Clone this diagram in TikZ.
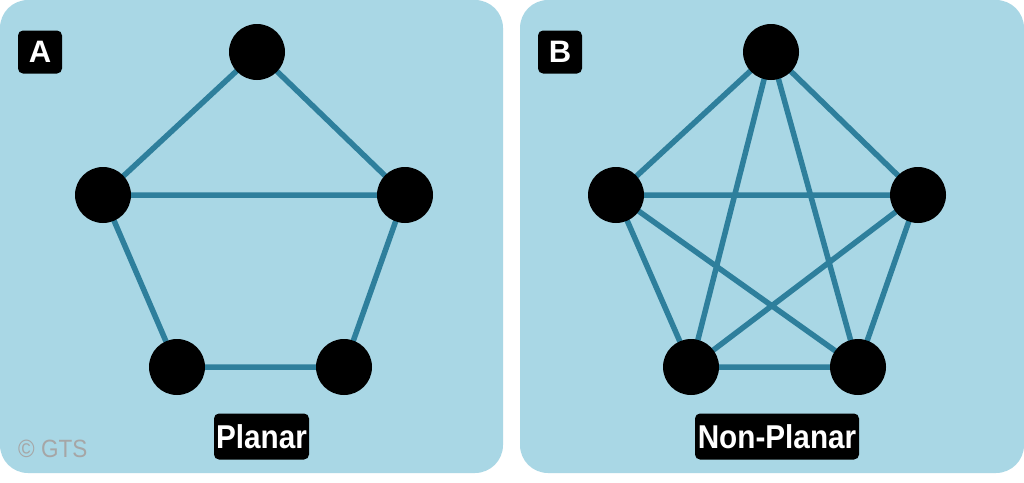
\documentclass[tikz,border=0pt]{standalone}
\usepackage{fontspec}
\setmainfont{Liberation Sans}
\newfontfamily\condfont[FakeStretch=0.9]{Liberation Sans}
\begin{document}
\begin{tikzpicture}[x=1pt,y=-1pt,
  panel/.style={fill=panelbg,draw=none,rounded corners=28pt},
  vtx/.style={circle,fill=black,minimum size=56pt,inner sep=0pt},
  edge/.style={draw=edgec,line width=5.5pt},
  tag/.style={fill=black,text=white,rounded corners=5pt,font=\condfont\bfseries\fontsize{33}{33}\selectfont,inner sep=0pt,minimum height=46pt},
]
\definecolor{panelbg}{HTML}{A9D7E5}
\definecolor{edgec}{HTML}{2E7F9C}
\useasboundingbox (0,0) rectangle (1024,482);
\fill[white] (0,0) rectangle (1024,482);
\path[panel] (0,0) rectangle (503,473);
\path[panel] (520,0) rectangle (1024,473);
% panel A vertices
\coordinate (a1) at (257,52);
\coordinate (a2) at (103,195);
\coordinate (a3) at (405,195);
\coordinate (a4) at (177,367);
\coordinate (a5) at (344,367);
% panel B vertices
\coordinate (b1) at (771,52);
\coordinate (b2) at (616,195);
\coordinate (b3) at (918,195);
\coordinate (b4) at (691,367);
\coordinate (b5) at (858,367);
\draw[edge] (a1) -- (a2) (a1) -- (a3) (a2) -- (a3)
  (a2) -- (a4) (a3) -- (a5) (a4) -- (a5);
\draw[edge] (b1) -- (b2) (b1) -- (b3) (b1) -- (b4) (b1) -- (b5)
  (b2) -- (b3) (b2) -- (b4) (b2) -- (b5)
  (b3) -- (b4) (b3) -- (b5) (b4) -- (b5);
\foreach \n in {a1,a2,a3,a4,a5,b1,b2,b3,b4,b5}{\node[vtx] (v\n) at (\n) {};}
% tags
\node[tag,minimum width=44pt,minimum height=43pt,font=\bfseries\fontsize{31}{31}\selectfont] (la) at (40,52) {A};
\node[tag,minimum width=44pt,minimum height=43pt,font=\bfseries\fontsize{31}{31}\selectfont] (lb) at (560,52) {B};
\node[tag,minimum width=95pt] (pl) at (261.5,436.5) {Planar};
\node[tag,minimum width=164pt] (np) at (777,436.5) {Non-Planar};
\node[anchor=base west,text=black!35,font=\condfont\fontsize{25}{25}\selectfont,inner sep=0pt] (cp) at (18,457) {© GTS};
\end{tikzpicture}
\end{document}
